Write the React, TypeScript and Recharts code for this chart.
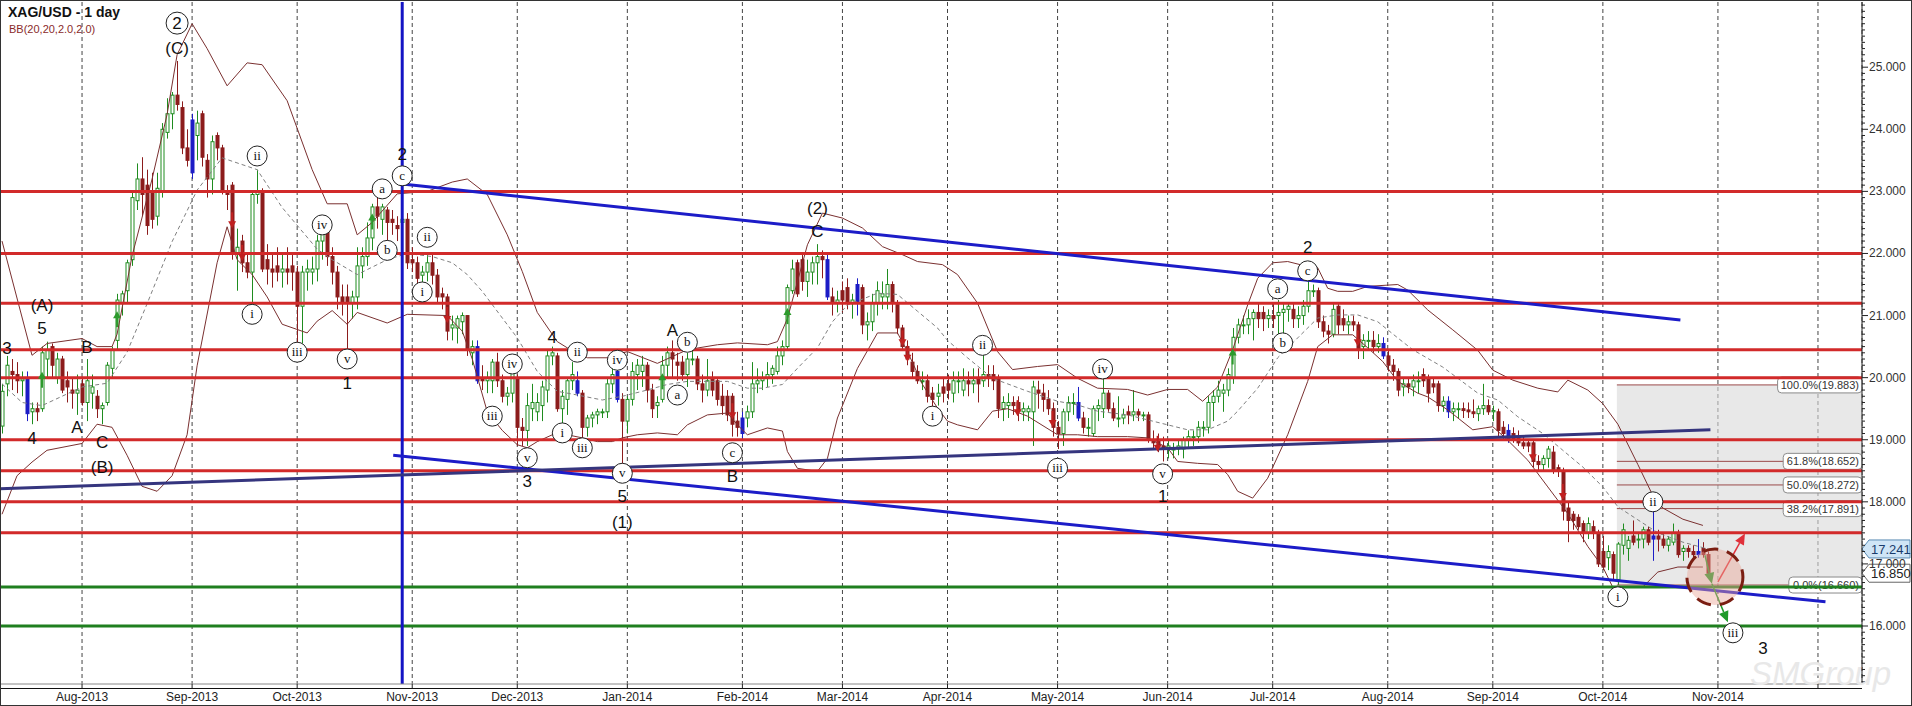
import {
  ComposedChart,
  Bar,
  Line,
  Scatter,
  XAxis,
  YAxis,
  CartesianGrid,
  ReferenceLine,
  ReferenceArea,
  ReferenceDot,
} from 'recharts';

// XAG/USD daily candles, index = trading day (0 = 10 Jul 2013)
const opens = [
  19.22, 19.9, 20.1, 20.05, 19.95, 19.97, 19.45, 19.5, 19.5, 20.3,
  20.5, 20.0, 20.3, 19.95, 19.8, 19.75, 19.9, 19.6, 19.75, 19.7,
  19.5, 19.6, 20.15, 20.6, 21.2, 21.4, 21.9, 22.85, 23.2, 23.1,
  23.0, 22.6, 23.0, 23.95, 24.25, 24.55, 24.35, 23.7, 24.15, 23.9,
  24.25, 23.5, 23.2, 23.9, 23.7, 23.0, 23.1, 22.0, 22.2, 21.85,
  21.7, 22.95, 23.0, 21.9, 21.75, 21.8, 21.7, 21.75, 21.8, 21.7,
  21.15, 21.7, 21.7, 21.75, 22.2, 22.35, 21.95, 21.7, 21.3, 21.3,
  21.2, 21.3, 21.8, 21.95, 22.25, 22.75, 22.55, 22.7, 22.55, 22.45,
  22.5, 22.55, 21.9, 21.85, 21.65, 21.7, 21.85, 21.65, 21.35, 21.3,
  20.8, 20.8, 20.9, 21.0, 20.4, 20.5, 20.0, 19.95, 19.95, 20.25,
  19.95, 19.7, 19.75, 20.0, 19.2, 19.15, 19.5, 19.45, 19.55, 19.8,
  20.35, 20.35, 19.5, 19.65, 19.95, 19.95, 19.75, 19.2, 19.35, 19.4,
  19.45, 19.45, 19.9, 20.1, 19.65, 19.3, 19.65, 20.05, 20.1, 20.2,
  19.8, 19.55, 19.65, 20.2, 20.4, 20.25, 20.25, 20.05, 20.3, 20.3,
  19.9, 19.8, 20.0, 19.95, 19.7, 19.7, 19.7, 19.3, 19.35, 19.35,
  19.45, 19.9, 19.95, 20.0, 20.05, 20.1, 20.35, 20.5, 21.4, 21.85,
  21.9, 21.55, 21.7, 21.85, 21.95, 21.9, 21.3, 21.2, 21.4, 21.45,
  21.2, 21.5, 21.45, 20.85, 20.9, 21.2, 21.3, 21.3, 21.5, 21.2,
  20.8, 20.5, 20.25, 20.1, 19.95, 19.95, 19.75, 19.7, 19.85, 19.9,
  19.75, 19.95, 19.8, 19.95, 19.9, 20.0, 19.95, 20.05, 20.05, 20.0,
  19.5, 19.55, 19.6, 19.6, 19.45, 19.45, 19.45, 19.8, 19.75, 19.65,
  19.5, 19.2, 19.1, 19.45, 19.6, 19.6, 19.35, 19.2, 19.1, 19.5,
  19.5, 19.75, 19.5, 19.35, 19.35, 19.45, 19.4, 19.45, 19.4, 19.4,
  19.0, 19.0, 18.9, 18.85, 18.85, 18.85, 18.85, 19.0, 19.05, 19.05,
  19.2, 19.2, 19.6, 19.7, 19.75, 19.8, 20.0, 20.65, 20.85, 20.85,
  20.95, 21.05, 21.05, 20.95, 21.0, 21.0, 21.05, 21.1, 21.1, 20.95,
  21.0, 21.15, 21.4, 21.4, 20.9, 20.75, 20.7, 21.15, 20.95, 20.85,
  20.9, 20.85, 20.5, 20.6, 20.6, 20.5, 20.55, 20.35, 20.2, 20.1,
  19.85, 19.9, 19.85, 19.95, 20.05, 20.0, 19.9, 19.9, 19.55, 19.62,
  19.45, 19.5, 19.5, 19.48, 19.45, 19.42, 19.5, 19.55, 19.45, 19.45,
  19.2, 19.15, 19.1, 19.05, 18.95, 18.95, 18.95, 18.65, 18.6, 18.7,
  18.8, 18.55, 18.5, 17.9, 17.8, 17.75, 17.65, 17.5, 17.6, 17.5,
  17.2, 17.1, 17.15, 16.75, 17.3, 17.25, 17.45, 17.4, 17.4, 17.55,
  17.4, 17.45, 17.4, 17.3, 17.35, 17.5, 17.2, 17.25, 17.2, 17.2,
  17.25, 17.15,
];
const highs = [
  19.9, 20.35, 20.3, 20.25, 20.1, 20.1, 19.6, 19.6, 20.5, 20.58,
  20.55, 20.4, 20.35, 20.1, 20.0, 20.05, 20.0, 20.3, 20.05, 19.8,
  19.6, 20.25, 20.5, 21.35, 21.4, 21.9, 23.0, 23.45, 23.55, 23.35,
  23.3, 23.3, 24.1, 24.5, 24.6, 25.1, 24.45, 24.0, 24.25, 24.3,
  24.3, 23.6, 23.9, 23.95, 23.75, 23.1, 23.15, 22.4, 22.3, 22.0,
  23.0, 23.35, 23.05, 22.15, 22.0, 22.1, 22.0, 22.1, 22.0, 21.8,
  21.8, 21.9, 21.95, 22.3, 22.5, 22.45, 22.1, 21.8, 21.5, 21.5,
  21.4, 22.1, 22.1, 22.5, 22.8, 22.9, 22.8, 22.75, 22.7, 22.6,
  23.1, 22.65, 22.1, 21.95, 21.8, 22.0, 22.0, 21.75, 21.45, 21.35,
  21.0, 21.0, 21.05, 21.0, 20.6, 20.6, 20.2, 20.1, 20.3, 20.4,
  20.05, 19.85, 20.25, 20.05, 19.35, 19.75, 19.9, 19.75, 19.95, 20.45,
  20.5, 20.4, 19.8, 20.0, 20.25, 20.1, 19.8, 19.4, 19.45, 19.5,
  19.5, 20.0, 20.2, 20.25, 19.75, 19.7, 20.25, 20.3, 20.35, 20.25,
  19.9, 19.7, 20.35, 20.5, 20.6, 20.4, 20.35, 20.4, 20.45, 20.35,
  20.05, 20.3, 20.1, 20.0, 19.9, 19.8, 19.75, 19.45, 19.45, 19.55,
  20.25, 20.15, 20.1, 20.25, 20.2, 20.5, 20.6, 21.5, 21.9, 21.9,
  22.0, 21.9, 21.95, 22.15, 22.05, 22.0, 21.45, 21.4, 21.55, 21.6,
  21.35, 21.6, 21.5, 21.05, 21.35, 21.55, 21.55, 21.75, 21.55, 21.25,
  20.85, 20.6, 20.4, 20.2, 20.1, 20.05, 19.85, 19.9, 20.0, 20.05,
  20.1, 20.1, 20.15, 20.1, 20.15, 20.15, 20.6, 20.2, 20.2, 20.05,
  19.7, 19.75, 19.7, 19.7, 19.6, 19.55, 19.95, 19.95, 19.9, 19.8,
  19.6, 19.3, 19.5, 19.7, 19.75, 19.85, 19.45, 19.35, 19.55, 19.65,
  20.0, 19.8, 19.6, 19.7, 19.5, 19.55, 19.8, 19.5, 19.45, 19.45,
  19.15, 19.1, 19.05, 19.0, 18.95, 19.0, 19.05, 19.15, 19.15, 19.3,
  19.3, 19.7, 19.8, 19.95, 19.9, 20.15, 20.8, 20.95, 21.0, 21.1,
  21.1, 21.2, 21.15, 21.1, 21.2, 21.25, 21.2, 21.2, 21.2, 21.15,
  21.25, 21.6, 21.5, 21.45, 21.0, 20.85, 21.2, 21.2, 21.1, 21.0,
  21.0, 20.9, 20.7, 20.75, 20.75, 20.7, 20.65, 20.45, 20.3, 20.15,
  20.0, 20.0, 20.05, 20.1, 20.15, 20.05, 20.0, 19.95, 19.7, 19.7,
  19.6, 19.6, 19.6, 19.6, 19.65, 19.55, 19.9, 19.65, 19.55, 19.5,
  19.3, 19.25, 19.2, 19.15, 19.05, 19.0, 19.0, 18.75, 18.75, 18.9,
  18.9, 18.6, 18.55, 18.0, 17.85, 17.8, 17.7, 17.75, 17.7, 17.55,
  17.45, 17.3, 17.2, 17.35, 17.65, 17.45, 17.7, 17.5, 17.6, 17.6,
  17.95, 17.55, 17.5, 17.45, 17.65, 17.55, 17.3, 17.3, 17.3, 17.4,
  17.35, 17.2,
];
const lows = [
  19.1, 19.7, 19.8, 19.75, 19.7, 19.3, 19.25, 19.3, 19.45, 20.0,
  20.0, 19.9, 19.75, 19.6, 19.5, 19.4, 19.55, 19.3, 19.5, 19.35,
  19.25, 19.55, 20.0, 20.45, 21.0, 21.2, 21.8, 22.7, 22.6, 22.3,
  22.4, 22.45, 22.9, 23.85, 24.0, 24.3, 23.6, 23.4, 23.2, 23.5,
  23.4, 22.9, 22.95, 23.5, 22.95, 22.7, 21.9, 21.4, 21.7, 21.6,
  21.1, 22.8, 21.7, 21.5, 21.45, 21.55, 21.45, 21.5, 21.4, 20.45,
  20.55, 21.4, 21.5, 21.55, 21.9, 21.8, 21.5, 21.1, 21.0, 20.45,
  20.95, 21.1, 21.6, 21.8, 22.05, 22.4, 22.3, 22.1, 22.3, 22.2,
  22.3, 21.75, 21.7, 21.5, 21.45, 21.55, 21.5, 21.2, 21.1, 20.6,
  20.6, 20.55, 20.7, 20.35, 20.2, 19.9, 19.8, 19.75, 19.75, 19.85,
  19.6, 19.55, 19.6, 18.9, 18.9, 18.9, 19.3, 19.3, 19.3, 19.6,
  20.2, 19.45, 19.2, 19.4, 19.8, 19.7, 19.0, 19.05, 19.2, 19.25,
  19.35, 19.35, 19.75, 19.6, 18.5, 19.1, 19.55, 19.8, 19.85, 19.6,
  19.35, 19.35, 19.6, 20.0, 20.0, 19.95, 19.95, 19.85, 20.2, 19.8,
  19.6, 19.7, 19.7, 19.55, 19.4, 19.3, 19.05, 19.05, 19.0, 19.2,
  19.35, 19.75, 19.8, 19.85, 19.9, 20.05, 20.2, 20.45, 21.35, 21.3,
  21.4, 21.3, 21.5, 21.5, 21.6, 21.25, 21.0, 21.05, 21.05, 21.1,
  20.95, 21.0, 20.7, 20.6, 20.75, 21.0, 21.1, 21.1, 21.05, 20.7,
  20.45, 20.2, 20.0, 19.9, 19.8, 19.6, 19.45, 19.55, 19.6, 19.65,
  19.6, 19.75, 19.7, 19.7, 19.75, 19.6, 19.85, 19.85, 19.8, 19.35,
  19.3, 19.35, 19.4, 19.3, 19.3, 19.3, 18.9, 19.5, 19.45, 19.4,
  19.05, 18.85, 18.9, 19.3, 19.4, 19.3, 19.1, 19.05, 19.05, 19.3,
  19.35, 19.45, 19.3, 19.2, 19.25, 19.25, 19.3, 19.3, 19.3, 18.95,
  18.85, 18.8, 18.65, 18.7, 18.7, 18.75, 18.7, 18.85, 18.9, 18.95,
  19.05, 19.1, 19.3, 19.6, 19.45, 19.7, 19.9, 20.55, 20.7, 20.7,
  20.6, 20.8, 20.75, 20.8, 20.8, 20.7, 20.6, 20.9, 20.8, 20.8,
  20.85, 21.05, 21.3, 20.8, 20.65, 20.55, 20.65, 20.7, 20.75, 20.7,
  20.75, 20.3, 20.3, 20.45, 20.4, 20.4, 20.3, 20.1, 19.95, 19.7,
  19.7, 19.75, 19.7, 19.75, 19.85, 19.6, 19.75, 19.45, 19.45, 19.35,
  19.3, 19.35, 19.35, 19.35, 19.35, 19.3, 19.4, 19.4, 19.3, 19.05,
  19.0, 18.95, 18.95, 18.9, 18.85, 18.8, 18.55, 18.5, 18.5, 18.55,
  18.45, 18.4, 17.7, 17.35, 17.55, 17.55, 17.35, 17.4, 17.4, 16.95,
  16.9, 16.9, 16.75, 16.66, 17.15, 17.05, 17.3, 17.25, 17.25, 17.3,
  17.05, 17.2, 17.25, 17.2, 17.3, 17.1, 17.05, 17.1, 17.05, 17.1,
  17.1, 16.8,
];
const closes = [
  19.78, 20.2, 20.05, 19.95, 19.98, 19.42, 19.5, 19.45, 20.4, 20.45,
  20.2, 20.3, 19.8, 19.85, 19.75, 19.8, 19.6, 19.95, 19.85, 19.5,
  19.55, 20.2, 20.45, 21.25, 21.35, 21.85, 22.9, 23.2, 22.95, 22.45,
  22.55, 23.05, 24.0, 24.25, 24.55, 24.4, 23.7, 23.5, 23.3, 24.1,
  23.55, 23.2, 23.8, 23.7, 23.0, 22.95, 22.0, 22.1, 21.85, 21.7,
  22.95, 23.0, 21.75, 21.75, 21.7, 21.7, 21.75, 21.7, 21.7, 21.15,
  21.7, 21.75, 21.75, 22.2, 22.35, 21.95, 21.7, 21.3, 21.2, 21.2,
  21.3, 21.8, 21.95, 22.25, 22.75, 22.6, 22.75, 22.5, 22.5, 22.4,
  22.55, 21.85, 21.85, 21.6, 21.7, 21.85, 21.65, 21.3, 21.3, 20.75,
  20.85, 20.95, 21.0, 20.45, 20.5, 19.95, 19.95, 20.0, 20.25, 19.95,
  19.7, 19.75, 20.1, 19.2, 19.15, 19.55, 19.6, 19.6, 19.85, 20.35,
  20.4, 19.5, 19.7, 19.95, 20.05, 19.75, 19.2, 19.35, 19.4, 19.45,
  19.45, 19.9, 20.05, 19.65, 19.3, 19.65, 20.1, 20.2, 20.2, 19.8,
  19.5, 19.6, 20.2, 20.4, 20.3, 20.2, 20.05, 20.3, 20.3, 19.9,
  19.8, 19.95, 19.8, 19.65, 19.55, 19.4, 19.25, 19.2, 19.1, 19.45,
  19.9, 19.95, 20.0, 20.05, 20.15, 20.35, 20.5, 21.45, 21.75, 21.35,
  21.55, 21.7, 21.85, 21.95, 21.9, 21.3, 21.2, 21.25, 21.25, 21.2,
  21.25, 21.2, 20.85, 20.9, 21.2, 21.4, 21.35, 21.5, 21.2, 20.8,
  20.5, 20.3, 20.1, 19.95, 19.95, 19.7, 19.65, 19.75, 19.75, 19.8,
  19.95, 19.95, 19.95, 19.9, 19.95, 19.9, 20.05, 20.0, 19.95, 19.5,
  19.6, 19.6, 19.55, 19.45, 19.5, 19.5, 19.85, 19.75, 19.65, 19.5,
  19.2, 19.1, 19.45, 19.6, 19.6, 19.35, 19.2, 19.2, 19.5, 19.55,
  19.75, 19.5, 19.35, 19.35, 19.4, 19.4, 19.45, 19.4, 19.4, 19.0,
  18.95, 18.9, 18.85, 18.9, 18.85, 18.9, 19.0, 19.05, 19.05, 19.2,
  19.2, 19.6, 19.7, 19.8, 19.8, 20.05, 20.65, 20.85, 20.85, 20.95,
  21.05, 20.95, 20.95, 21.0, 20.95, 21.05, 21.1, 21.15, 20.95, 21.0,
  21.15, 21.4, 21.4, 20.9, 20.75, 20.7, 21.1, 20.85, 20.85, 20.9,
  20.85, 20.45, 20.6, 20.6, 20.5, 20.55, 20.35, 20.2, 20.1, 19.8,
  19.9, 19.85, 19.95, 19.95, 19.95, 19.75, 19.85, 19.55, 19.62, 19.45,
  19.5, 19.5, 19.47, 19.45, 19.42, 19.5, 19.55, 19.45, 19.47, 19.15,
  19.1, 19.0, 19.0, 18.95, 18.9, 18.9, 18.65, 18.6, 18.7, 18.85,
  18.5, 18.5, 17.85, 17.7, 17.7, 17.6, 17.5, 17.65, 17.5, 17.0,
  16.95, 17.2, 16.85, 17.32, 17.55, 17.38, 17.35, 17.4, 17.55, 17.35,
  17.45, 17.4, 17.3, 17.4, 17.5, 17.15, 17.25, 17.2, 17.15, 17.15,
  17.15, 16.85,
];

const blueBars = [5, 38, 95, 115, 123, 148, 165, 171, 215, 276, 289, 301, 330, 339];
const upArrows = [8, 23, 74, 132, 157, 246];
const downArrows = [46, 48, 89, 146, 180, 181, 203, 210, 231, 271, 306, 312];

// BB(20,2): [day, value]
const bbUpper = [
  [0, 22.2], [6, 20.36], [9, 20.55], [16, 20.63], [19, 20.5], [22, 20.5], [23, 20.7], [26, 21.96],
  [30, 23.2], [33, 24.24], [35, 25.2], [38, 25.7], [41, 25.3], [45, 24.7], [49, 25.07], [52, 25.04],
  [57, 24.46], [62, 23.35], [65, 22.8], [69, 22.8], [71, 22.3], [74, 22.5], [79, 22.96], [85, 23.0],
  [90, 23.15], [93, 23.2], [97, 22.95], [101, 22.3], [104, 21.71], [107, 21.05], [111, 20.58],
  [113, 20.48], [117, 20.32], [121, 20.32], [125, 20.42], [131, 20.23], [137, 20.45], [143, 20.53],
  [147, 20.56], [153, 20.53], [155, 20.58], [157, 20.95], [161, 22.14], [164, 22.65], [168, 22.57],
  [172, 22.41], [176, 22.11], [180, 21.98], [183, 21.87], [188, 21.82], [191, 21.66], [195, 21.2],
  [199, 20.42], [202, 20.13], [207, 20.18], [211, 20.21], [215, 19.99], [219, 19.83], [225, 19.81],
  [229, 19.72], [233, 19.81], [237, 19.81], [240, 19.62], [243, 19.85], [246, 20.45], [249, 21.17],
  [251, 21.6], [254, 21.85], [257, 21.87], [261, 21.79], [263, 21.77], [265, 21.44], [267, 21.39],
  [270, 21.39], [273, 21.47], [279, 21.5], [281, 21.41], [285, 21.09], [290, 20.77], [295, 20.44],
  [298, 20.12], [302, 19.96], [307, 19.83], [311, 19.77], [313, 19.96], [317, 19.8], [320, 19.58],
  [323, 19.25], [327, 18.6], [330, 18.1], [332, 17.9], [336, 17.72], [340, 17.62],
];
const bbMiddle = [
  [0, 19.9], [4, 19.6], [8, 19.55], [16, 19.85], [21, 19.91], [25, 20.41], [29, 21.19], [34, 22.19],
  [39, 23.02], [44, 23.54], [51, 23.35], [56, 22.74], [63, 22.07], [66, 21.9], [71, 21.66], [77, 21.9],
  [81, 22.0], [86, 21.95], [90, 21.85], [93, 21.66], [96, 21.39], [103, 20.64], [107, 20.1],
  [111, 19.78], [115, 19.72], [120, 19.64], [124, 19.7], [128, 19.78], [133, 19.89], [137, 19.94],
  [145, 19.94], [149, 19.83], [152, 19.83], [156, 19.89], [159, 20.15], [163, 20.48], [166, 20.9],
  [169, 21.17], [175, 21.36], [179, 21.34], [183, 21.07], [187, 20.8], [189, 20.6], [193, 20.32],
  [198, 19.99], [205, 19.78], [211, 19.62], [215, 19.56], [219, 19.46], [225, 19.4], [229, 19.32],
  [233, 19.24], [237, 19.16], [241, 19.16], [245, 19.3], [247, 19.46], [251, 19.83], [255, 20.32],
  [259, 20.64], [263, 20.96], [267, 21.01], [271, 21.01], [275, 20.9], [279, 20.64], [282, 20.45],
  [288, 20.17], [295, 19.75], [299, 19.64], [303, 19.37], [308, 19.1], [312, 18.83], [316, 18.56],
  [320, 18.24], [323, 17.92], [327, 17.71], [331, 17.5], [336, 17.35], [341, 17.24],
];
const bbLower = [
  [0, 17.8], [3, 18.42], [6, 18.64], [9, 18.83], [16, 18.94], [19, 19.25], [22, 19.2], [25, 18.75],
  [28, 18.25], [31, 18.17], [34, 18.42], [37, 19.08], [39, 20.19], [43, 21.85], [45, 22.43],
  [47, 21.9], [50, 21.66], [53, 21.3], [56, 20.86], [61, 20.72], [63, 20.91], [66, 21.08],
  [69, 20.86], [71, 21.05], [77, 20.88], [81, 21.02], [89, 21.0], [92, 20.75], [94, 20.3],
  [97, 19.45], [100, 19.15], [103, 18.92], [105, 18.87], [107, 18.97], [110, 19.08], [113, 19.08],
  [116, 19.03], [119, 18.97], [122, 18.97], [124, 19.03], [127, 19.08], [131, 19.11], [135, 19.08],
  [137, 19.24], [141, 19.4], [145, 19.43], [147, 19.24], [149, 19.08], [153, 19.19], [156, 19.14],
  [157, 18.81], [159, 18.54], [163, 18.49], [165, 18.7], [167, 19.35], [171, 20.15], [175, 20.72],
  [179, 20.72], [181, 20.42], [184, 19.89], [187, 19.51], [189, 19.3], [191, 19.24], [195, 19.16],
  [198, 19.46], [201, 19.5], [205, 19.38], [211, 19.08], [215, 19.08], [219, 19.05], [225, 19.05],
  [229, 19.03], [233, 18.87], [235, 18.65], [239, 18.62], [243, 18.6], [245, 18.44], [247, 18.17],
  [250, 18.06], [253, 18.38], [257, 19.08], [261, 19.94], [263, 20.5], [266, 20.69], [270, 20.69],
  [273, 20.48], [276, 20.26], [279, 19.94], [283, 19.75], [285, 19.69], [289, 19.48], [294, 19.16],
  [298, 19.21], [301, 18.99], [305, 18.67], [309, 18.24], [313, 17.81], [317, 17.28], [320, 16.95],
  [322, 16.62], [328, 16.63], [331, 16.87], [335, 16.95], [340, 16.95],
];

const monthTicks = [16, 38, 59, 82, 103, 125, 148, 168, 189, 211, 233, 254, 277, 298, 320, 343, 363];
const monthLabels = [
  'Aug-2013', 'Sep-2013', 'Oct-2013', 'Nov-2013', 'Dec-2013', 'Jan-2014', 'Feb-2014', 'Mar-2014',
  'Apr-2014', 'May-2014', 'Jun-2014', 'Jul-2014', 'Aug-2014', 'Sep-2014', 'Oct-2014', 'Nov-2014', '',
];
const priceTicks = [16, 17, 18, 19, 20, 21, 22, 23, 24, 25];

const redLevels = [23.0, 22.0, 21.2, 20.45, 20.0, 19.0, 18.5, 18.0, 17.5];
const greenLevels = [16.63, 16.0];
const fibLevels = [19.883, 18.652, 18.272, 17.891, 16.66];
const fibNames = ['100.0%(19.883)', '61.8%(18.652)', '50.0%(18.272)', '38.2%(17.891)', '0.0%(16.660)'];
const lastClose = 16.85;
const middleBand = 17.241;

// wave counts: [text, day, price]
const waveLabels = [
  ['3', 1, 20.48], ['5', 8, 20.8], ['(A)', 8, 21.17], ['4', 6, 19.03], ['B', 17, 20.49],
  ['A', 15, 19.2], ['C', 20, 18.96], ['(B)', 20, 18.56], ['(C)', 35, 25.31], ['2', 80, 23.6],
  ['1', 69, 19.91], ['3', 105, 18.33], ['4', 110, 20.65], ['5', 124, 18.09], ['(1)', 124, 17.67],
  ['A', 134, 20.77], ['B', 146, 18.42], ['(2)', 163, 22.73], ['C', 163, 22.36], ['1', 232, 18.09],
  ['2', 261, 22.1], ['3', 352, 15.64],
];
const ringLabels = [
  ['2', 35, 25.71], ['ii', 51, 23.57], ['i', 50, 21.02], ['iii', 59, 20.41], ['iv', 64, 22.46],
  ['v', 69, 20.3], ['a', 76, 23.04], ['b', 77, 22.05], ['c', 80, 23.25], ['ii', 85, 22.26],
  ['i', 84, 21.38], ['iii', 98, 19.38], ['iv', 102, 20.22], ['v', 105, 18.71], ['ii', 115, 20.41],
  ['i', 112, 19.11], ['iii', 116, 18.87], ['iv', 123, 20.28], ['v', 124, 18.46], ['b', 137, 20.57],
  ['a', 135, 19.72], ['c', 146, 18.79], ['i', 186, 19.38], ['ii', 196, 20.52], ['iii', 211, 18.54],
  ['iv', 220, 20.14], ['v', 232, 18.45], ['a', 255, 21.43], ['b', 256, 20.56], ['c', 261, 21.72],
  ['ii', 330, 18.0], ['i', 323, 16.47], ['iii', 346, 15.89],
];

const X_MIN = -0.4;
const X_MAX = 371.8;
const Y_MIN = 15.066;
const Y_MAX = 26.05;
const SANS = 'Liberation Sans, Arial, sans-serif';
const SERIF = 'Liberation Serif, Times New Roman, serif';

const candles = opens.map((o, i) => ({ i, o, h: highs[i], l: lows[i], c: closes[i], hl: [lows[i], highs[i]] }));
const toPts = (arr: number[][]) => arr.map(([i, v]) => ({ i, v }));
const waveData = waveLabels.map(([t, i, v]) => ({ t, i, v }));
const ringData = ringLabels.map(([t, i, v]) => ({ t, i, v }));
const upData = upArrows.map((i) => ({ i, v: (opens[i] + closes[i]) / 2 }));
const downData = downArrows.map((i) => ({ i, v: (opens[i] + closes[i]) / 2 }));
const yTicks: number[] = [];
for (let k = 151; k <= 260; k++) yTicks.push(k / 10);

function Candle(props: any) {
  const { x, y, width, height, payload } = props;
  if (!payload) return null;
  const { o, h, l, c, i } = payload;
  const top = Math.min(y, y + height);
  const hgt = Math.abs(height);
  const py = (v: number) => top + ((h - v) / (h - l || 1)) * hgt;
  const cx = Math.round(x + width / 2) + 0.5;
  const blue = blueBars.includes(i);
  const up = c >= o;
  const color = blue ? '#1c1cc6' : up ? '#1f8c1f' : '#8c1c1c';
  const fill = blue ? '#1c1cc6' : up ? '#ffffff' : '#8c1c1c';
  const bt = py(Math.max(o, c));
  const bb = py(Math.min(o, c));
  return (
    <g>
      <line x1={cx} x2={cx} y1={top} y2={top + hgt} stroke={color} strokeWidth={1} />
      <rect x={cx - 1.5} y={bt} width={3} height={Math.max(1, bb - bt)} fill={fill} stroke={color} strokeWidth={1} />
    </g>
  );
}

function WaveText(props: any) {
  const { cx, cy, payload } = props;
  return (
    <text x={cx} y={cy + 6} textAnchor="middle" fontSize={17} fontFamily={SANS} fill="#111">
      {payload.t}
    </text>
  );
}

function RingText(props: any) {
  const { cx, cy, payload } = props;
  const digit = /\d/.test(payload.t);
  return (
    <g>
      <circle cx={cx} cy={cy} r={digit ? 11 : 10} fill="#fff" stroke="#222" strokeWidth={1} />
      <text x={cx} y={cy + (digit ? 6 : 4)} textAnchor="middle" fontSize={digit ? 17 : 13}
        fontFamily={digit ? SANS : SERIF} fill="#111">
        {payload.t}
      </text>
    </g>
  );
}

function UpMark(props: any) {
  const { cx, cy } = props;
  return (
    <g>
      <line x1={cx} x2={cx} y1={cy + 7} y2={cy - 4} stroke="#2c9a2c" strokeWidth={2} />
      <polygon points={`${cx - 4},${cy - 2} ${cx + 4},${cy - 2} ${cx},${cy - 9}`} fill="#2c9a2c" />
    </g>
  );
}

function DownMark(props: any) {
  const { cx, cy } = props;
  return (
    <g>
      <line x1={cx} x2={cx} y1={cy - 7} y2={cy + 4} stroke="#c02020" strokeWidth={2} />
      <polygon points={`${cx - 4},${cy + 2} ${cx + 4},${cy + 2} ${cx},${cy + 9}`} fill="#c02020" />
    </g>
  );
}

const arrowShape = (color: string) => (p: any) => {
  const { x1, y1, x2, y2 } = p;
  const a = Math.atan2(y2 - y1, x2 - x1);
  const bx = x2 - 11 * Math.cos(a);
  const by = y2 - 11 * Math.sin(a);
  const nx = -Math.sin(a) * 5;
  const ny = Math.cos(a) * 5;
  return (
    <g>
      <line x1={x1} y1={y1} x2={bx} y2={by} stroke={color} strokeWidth={1.5} />
      <polygon points={`${x2},${y2} ${bx + nx},${by + ny} ${bx - nx},${by - ny}`} fill={color} />
    </g>
  );
};

function FibTag(props: any) {
  const { viewBox, text } = props;
  if (!viewBox) return null;
  const right = viewBox.x + viewBox.width;
  const w = text.length * 5.6 + 6;
  return (
    <g>
      <rect x={right - w} y={viewBox.y - 8} width={w} height={16} rx={4} fill="#fff" stroke="#8a8a8a" />
      <text x={right - 3} y={viewBox.y + 4} textAnchor="end" fontSize={11} fontFamily={SANS} fill="#333">
        {text}
      </text>
    </g>
  );
}

function PriceBadge(props: any) {
  const { viewBox, text, fill, stroke, color } = props;
  if (!viewBox) return null;
  const x = viewBox.x + viewBox.width;
  const y = viewBox.y;
  return (
    <g>
      <path d={`M${x} ${y} L${x + 7} ${y - 9} L${x + 48} ${y - 9} L${x + 48} ${y + 9} L${x + 7} ${y + 9} Z`}
        fill={fill} stroke={stroke} />
      <text x={x + 9} y={y + 5} fontSize={13} fontFamily={SANS} fill={color}>{text}</text>
    </g>
  );
}

function XTick(props: any) {
  const { x, y, payload } = props;
  const k = monthTicks.indexOf(payload.value);
  return (
    <g>
      <line x1={x} x2={x} y1={y} y2={y + 4} stroke="#222" />
      <text x={x} y={y + 17} textAnchor="middle" fontSize={12} fontFamily={SANS} fill="#222">
        {monthLabels[k]}
      </text>
    </g>
  );
}

function YTick(props: any) {
  const { x, y, payload } = props;
  const v = payload.value;
  const major = priceTicks.includes(v);
  return (
    <g>
      <line x1={x} x2={x + (major ? 6 : 3)} y1={y} y2={y} stroke="#222" />
      {major && (
        <text x={x + 7} y={y + 4} fontSize={12} fontFamily={SANS} fill="#333">
          {v.toFixed(3)}
        </text>
      )}
    </g>
  );
}

export default function App() {
  return (
    <div style={{ position: 'absolute', left: 0, top: 0, width: 1912, height: 706, background: '#fff', overflow: 'hidden' }}>
      <ComposedChart width={1912} height={706} data={candles} margin={{ top: 2, right: 0, bottom: 0, left: 0 }}>
        <CartesianGrid horizontal={false} stroke="#444" strokeDasharray="4 3" />
        <XAxis type="number" dataKey="i" domain={[X_MIN, X_MAX]} ticks={monthTicks} interval={0}
          tick={<XTick />} tickLine={false} tickSize={0} tickMargin={0} height={22} axisLine={{ stroke: '#888' }} />
        <YAxis orientation="right" type="number" domain={[Y_MIN, Y_MAX]} ticks={yTicks} interval={0}
          tick={<YTick />} tickLine={false} tickSize={0} tickMargin={0} width={50} axisLine={{ stroke: '#222' }} />

        <ReferenceArea x1={322.8} x2={X_MAX} y1={16.66} y2={19.883} fill="#d9d9d9" fillOpacity={0.6} stroke="none" />
        {fibLevels.map((v, k) => (
          <ReferenceLine key={'f' + k} segment={[{ x: 322.8, y: v }, { x: X_MAX, y: v }]} stroke="#9a4a4a" strokeWidth={1}
            label={<FibTag text={fibNames[k]} />} />
        ))}

        <Line data={toPts(bbUpper)} dataKey="v" type="linear" dot={false} activeDot={false} stroke="#7a3030" strokeWidth={1} isAnimationActive={false} />
        <Line data={toPts(bbMiddle)} dataKey="v" type="linear" dot={false} activeDot={false} stroke="#808080" strokeWidth={1} strokeDasharray="4 3" isAnimationActive={false} />
        <Line data={toPts(bbLower)} dataKey="v" type="linear" dot={false} activeDot={false} stroke="#7a3030" strokeWidth={1} isAnimationActive={false} />

        <Bar dataKey="hl" barSize={3} shape={(p: any) => <Candle {...p} />} isAnimationActive={false} />

        {redLevels.map((v) => (
          <ReferenceLine key={'r' + v} y={v} stroke="#d22a2a" strokeWidth={3} />
        ))}
        {greenLevels.map((v) => (
          <ReferenceLine key={'g' + v} y={v} stroke="#1f7f1f" strokeWidth={3} />
        ))}
        <ReferenceLine x={80} stroke="#1414c4" strokeWidth={3} />
        <ReferenceLine segment={[{ x: 80, y: 23.12 }, { x: 335.5, y: 20.93 }]} stroke="#1c1cc8" strokeWidth={3} />
        <ReferenceLine segment={[{ x: 78.2, y: 18.75 }, { x: 364.5, y: 16.39 }]} stroke="#1c1cc8" strokeWidth={3} />
        <ReferenceLine segment={[{ x: X_MIN, y: 18.21 }, { x: 341.5, y: 19.16 }]} stroke="#35357e" strokeWidth={3} />

        <ReferenceDot x={342.4} y={16.79} r={28} fill="#eaa696" fillOpacity={0.45} stroke="#7a1e12"
          strokeWidth={3} strokeDasharray="15 9" />
        <ReferenceLine segment={[{ x: 343, y: 16.71 }, { x: 348.4, y: 17.49 }]} shape={arrowShape('#e0303a')} />
        <ReferenceLine segment={[{ x: 340.4, y: 17.14 }, { x: 341.8, y: 16.68 }]} shape={arrowShape('#1f9a2a')} />
        <ReferenceLine segment={[{ x: 341.8, y: 16.68 }, { x: 345, y: 16.06 }]} shape={arrowShape('#1f9a2a')} />

        <Scatter data={upData} dataKey="v" shape={(p: any) => <UpMark {...p} />} isAnimationActive={false} />
        <Scatter data={downData} dataKey="v" shape={(p: any) => <DownMark {...p} />} isAnimationActive={false} />
        <Scatter data={ringData} dataKey="v" shape={(p: any) => <RingText {...p} />} isAnimationActive={false} />
        <Scatter data={waveData} dataKey="v" shape={(p: any) => <WaveText {...p} />} isAnimationActive={false} />

        <ReferenceLine y={middleBand} strokeOpacity={0}
          label={<PriceBadge text="17.241" fill="#cfe5f6" stroke="#5a8cb5" color="#1a3c6c" />} />
        <ReferenceLine y={lastClose} strokeOpacity={0}
          label={<PriceBadge text="16.850" fill="#ffffff" stroke="#666" color="#222" />} />
      </ComposedChart>

      <div style={{ position: 'absolute', left: 0, top: 688, width: 1862, height: 1, background: '#111' }} />
      <div style={{ position: 'absolute', left: 8, top: 4, fontFamily: SANS, fontWeight: 'bold', fontSize: 14, color: '#111' }}>
        XAG/USD - 1 day
      </div>
      <div style={{ position: 'absolute', left: 9, top: 23, fontFamily: SANS, fontSize: 11, color: '#8a2a2a' }}>
        BB(20,20,2.0,2.0)
      </div>
      <div style={{ position: 'absolute', left: 1750, top: 656, fontFamily: SANS, fontStyle: 'italic', fontSize: 33, lineHeight: '36px', color: '#e8e8e8' }}>
        SMGroup
      </div>
      <div style={{ position: 'absolute', left: 0, top: 0, width: 1912, height: 706, boxSizing: 'border-box', border: '1px solid #333', pointerEvents: 'none' }} />
    </div>
  );
}
